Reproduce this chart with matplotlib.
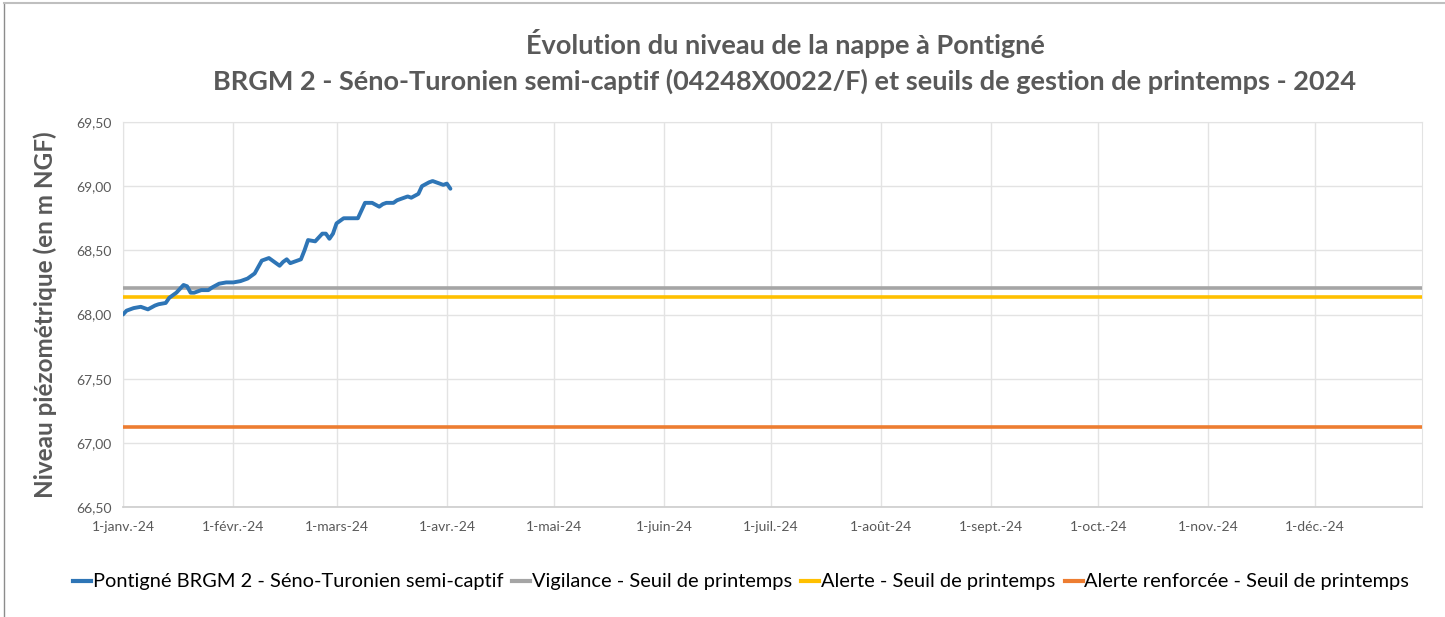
import numpy as np
import pandas as pd
import matplotlib
matplotlib.use('Agg')
import matplotlib.pyplot as plt
import matplotlib.dates as mdates
from matplotlib.lines import Line2D

# --- DATA ---
day_offsets = [0, 1, 3, 5, 7, 9, 10, 12, 13, 15, 17, 18, 19, 20, 22, 24, 25, 27, 29, 31,
               33, 35, 37, 38, 39, 41, 42, 44, 45, 46, 47, 48, 50, 51, 52, 54, 56, 57, 58, 59,
               60, 62, 64, 66, 67, 68, 70, 72, 73, 74, 76, 77, 79, 80, 81, 83, 84, 86, 87, 89,
               90, 91, 92]
niveau = [68.00, 68.03, 68.05, 68.06, 68.04, 68.07, 68.08, 68.09, 68.13, 68.17, 68.23, 68.22,
          68.17, 68.17, 68.19, 68.19, 68.21, 68.24, 68.25, 68.25, 68.26, 68.28, 68.32, 68.37,
          68.42, 68.44, 68.42, 68.38, 68.41, 68.43, 68.40, 68.41, 68.43, 68.50, 68.58, 68.57,
          68.63, 68.63, 68.59, 68.63, 68.71, 68.75, 68.75, 68.75, 68.81, 68.87, 68.87, 68.84,
          68.86, 68.87, 68.87, 68.89, 68.91, 68.92, 68.91, 68.94, 69.00, 69.03, 69.04, 69.02,
          69.01, 69.02, 68.98]
dates = pd.Timestamp('2024-01-01') + pd.to_timedelta(day_offsets, unit='D')

seuil_vigilance = 68.21
seuil_alerte = 68.14
seuil_alerte_renforcee = 67.12

month_labels = ['1-janv.-24', '1-févr.-24', '1-mars-24', '1-avr.-24', '1-mai-24', '1-juin-24',
                '1-juil.-24', '1-août-24', '1-sept.-24', '1-oct.-24', '1-nov.-24', '1-déc.-24']
y_ticks = [66.5, 67.0, 67.5, 68.0, 68.5, 69.0, 69.5]

series_names = ['Pontigné BRGM 2 - Séno-Turonien semi-captif',
                'Vigilance - Seuil de printemps',
                'Alerte - Seuil de printemps',
                'Alerte renforcée - Seuil de printemps']
colors = ['#2E75B6', '#A5A5A5', '#FFC000', '#ED7D31']

# --- PLOT ---
plt.rcParams['font.family'] = ['Lato', 'DejaVu Sans']
txt = '#595959'

fig = plt.figure(figsize=(14.45, 6.17), dpi=100)
ax = fig.add_axes([123 / 1445, 1 - 507 / 617, 1299 / 1445, 385 / 617])

x0, x1 = pd.Timestamp('2024-01-01'), pd.Timestamp('2024-12-31')
ax.plot(dates, niveau, color=colors[0], lw=2.8, solid_capstyle='round',
        solid_joinstyle='round', zorder=5)
ax.plot([x0, x1], [seuil_vigilance] * 2, color=colors[1], lw=2.6, zorder=4)
ax.plot([x0, x1], [seuil_alerte] * 2, color=colors[2], lw=2.6, zorder=4)
ax.plot([x0, x1], [seuil_alerte_renforcee] * 2, color=colors[3], lw=2.6, zorder=4)

ax.set_xlim(x0, x1)
ax.set_ylim(66.5, 69.5)
ax.set_yticks(y_ticks)
ax.set_yticklabels([f'{v:.2f}'.replace('.', ',') for v in y_ticks])
ax.set_xticks(pd.date_range('2024-01-01', periods=12, freq='MS'))
ax.set_xticklabels(month_labels)
ax.tick_params(axis='both', length=0, labelsize=10, labelcolor=txt)
ax.tick_params(axis='x', pad=10)
ax.tick_params(axis='y', pad=8)
ax.grid(True, color='#E3E3E3', lw=1.0)
ax.set_axisbelow(True)
for side in ['top', 'right', 'left']:
    ax.spines[side].set_color('#E3E3E3')
ax.spines['bottom'].set_color('#D0D0D0')
ax.spines['bottom'].set_linewidth(1.3)

ax.set_ylabel('Niveau piézométrique (en m NGF)', fontsize=17.5, fontweight='bold',
              color=txt, labelpad=14)

fig.text(785 / 1445, 1 - 44 / 617, 'Évolution du niveau de la nappe à Pontigné',
         ha='center', va='center', fontsize=19.5, fontweight='bold', color=txt)
fig.text(785 / 1445, 1 - 81 / 617,
         'BRGM 2 - Séno-Turonien semi-captif (04248X0022/F) et seuils de gestion de printemps - 2024',
         ha='center', va='center', fontsize=19.5, fontweight='bold', color=txt)

handles = [Line2D([], [], color=c, lw=3) for c in colors]
fig.legend(handles, series_names, loc='center', bbox_to_anchor=(741 / 1445, 1 - 582 / 617),
           ncol=4, frameon=False, fontsize=14.4, handlelength=0.9, handletextpad=0.1,
           columnspacing=0.45, labelcolor='black')

# chart frame (top and left edges visible in the reference)
fig.add_artist(Line2D([4 / 1445, 4 / 1445], [0, 1 - 3 / 617], transform=fig.transFigure,
                      color='#8C8C8C', lw=1))
fig.add_artist(Line2D([4 / 1445, 1], [1 - 3 / 617, 1 - 3 / 617], transform=fig.transFigure,
                      color='#BFBFBF', lw=1.5))

fig.savefig('out.png', dpi=100)
